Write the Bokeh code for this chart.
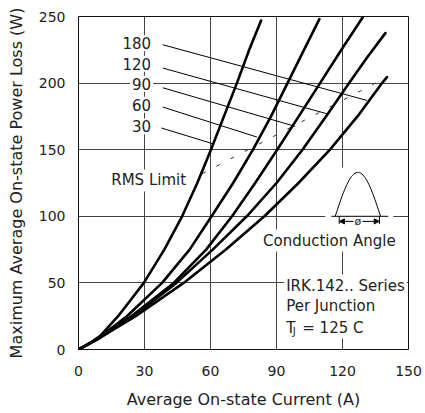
import numpy as np
from bokeh.plotting import figure
from bokeh.models import Range1d, FixedTicker, Arrow, NormalHead
from bokeh.core.properties import value
from bokeh.embed import file_html
from bokeh.resources import INLINE

FONT = "DejaVu Sans"
TXT = "#222222"

# ---------------- data ----------------
x_ticks = [0, 30, 60, 90, 120, 150]
y_ticks = [0, 50, 100, 150, 200, 250]

angle_labels = ["180", "120", "90", "60", "30"]

# curve readings: average current (A) vs power loss (W)
i_30 = [0, 5, 10, 18, 29.7, 39, 47.1, 54, 60.2, 66.1, 72, 77.6, 83]
p_30 = [0, 4.5, 10.5, 25, 50, 75, 100, 125, 150, 175, 200, 225, 247]

i_60 = [0, 5, 10, 22, 38, 50.5, 60.5, 70.3, 79.3, 87.5, 95, 102.5, 109.5]
p_60 = [0, 4.5, 9.8, 25, 50, 75, 100, 125, 150, 175, 200, 225, 248]

i_90 = [0, 10, 24, 43.3, 58, 69.8, 80.3, 90.3, 100.1, 109.8, 119.5, 129.2]
p_90 = [0, 9.2, 25, 50, 75, 100, 125, 150, 175, 200, 225, 249.5]

i_120 = [0, 10, 25, 44.5, 61, 76.5, 90, 101.8, 112.5, 123, 131.5, 139.5]
p_120 = [0, 9, 25, 50, 75, 100, 125, 150, 175, 200, 220, 237.5]

i_180 = [0, 10, 26, 47.8, 67, 84.5, 100, 114.3, 126.8, 138, 140.2]
p_180 = [0, 9, 25, 50, 75, 100, 125, 150, 175, 200, 204.5]

# RMS limit line
rms_i = [56.2, 140.2]
rms_p = [132.0, 204.5]

# curve label positions and leader lines
label_x = [33.9, 33.9, 33.9, 33.9, 33.9]
label_y = [230, 214.5, 199.5, 183.8, 167.5]
lead_x0 = [38.3, 38.3, 38.3, 38.3, 37.7]
lead_y0 = [228.8, 211.3, 196.5, 182.0, 166.3]
lead_x1 = [131.1, 112.9, 98.5, 81.1, 61.0]
lead_y1 = [187.0, 177.0, 167.5, 159.5, 154.5]

# ---------------- figure ----------------
p = figure(width=425, height=413,
           x_range=Range1d(0, 150), y_range=Range1d(0, 250),
           output_backend="svg", toolbar_location=None,
           min_border_left=78, min_border_right=17,
           min_border_top=16, min_border_bottom=64)

p.outline_line_color = "#111111"
p.outline_line_width = 1
p.background_fill_color = "white"
p.border_fill_color = "white"

p.xaxis.ticker = FixedTicker(ticks=x_ticks)
p.yaxis.ticker = FixedTicker(ticks=y_ticks)
p.axis.axis_line_color = None
p.axis.major_tick_line_color = None
p.axis.minor_tick_line_color = None
p.axis.major_label_text_font = FONT
p.axis.major_label_text_font_size = "14px"
p.axis.major_label_text_color = TXT
p.xaxis.major_label_standoff = 10
p.yaxis.major_label_standoff = 7

p.xaxis.axis_label = "Average On-state Current (A)"
p.yaxis.axis_label = "Maximum Average On-state Power Loss (W)"
p.axis.axis_label_text_font = FONT
p.axis.axis_label_text_font_size = "16px"
p.axis.axis_label_text_font_style = "normal"
p.axis.axis_label_text_color = TXT
p.xaxis.axis_label_standoff = 11
p.yaxis.axis_label_standoff = 10

p.grid.grid_line_color = "#444444"
p.grid.grid_line_alpha = 1
p.grid.grid_line_width = 1

# white patch behind the conduction-angle inset (breaks gridlines)
p.quad(left=[112.2], right=[143.1], bottom=[87.5], top=[136.7],
       fill_color="white", line_color=None)

# text items with white background (cover gridlines)
p.text(x=label_x, y=label_y, text=angle_labels,
       text_font=value(FONT), text_font_size=value("15px"),
       text_align="right", text_baseline="middle", text_color=TXT,
       background_fill_color="white", padding=2)

p.text(x=[31.9], y=[126.9], text=["RMS Limit"],
       text_font=value(FONT), text_font_size=value("15px"),
       text_align="center", text_baseline="middle", text_color=TXT,
       background_fill_color="white", padding=2)

p.text(x=[114.0], y=[81.8], text=["Conduction Angle"],
       text_font=value(FONT), text_font_size=value("15px"),
       text_align="center", text_baseline="middle", text_color=TXT,
       background_fill_color="white", padding=2)

p.text(x=[93.5, 93.5], y=[48.0, 32.3], text=["IRK.142.. Series", "Per Junction"],
       text_font=value(FONT), text_font_size=value("15px"),
       text_align="left", text_baseline="middle", text_color=TXT,
       background_fill_color="white", padding=2)

p.text(x=[93.5], y=[16.5], text=["T"],
       text_font=value(FONT), text_font_size=value("15px"),
       text_align="left", text_baseline="middle", text_color=TXT,
       background_fill_color="white", padding=2)
p.text(x=[97.4], y=[13.4], text=["J"],
       text_font=value(FONT), text_font_size=value("10px"),
       text_align="left", text_baseline="middle", text_color=TXT)
p.text(x=[100.8], y=[16.5], text=["= 125  C"],
       text_font=value(FONT), text_font_size=value("15px"),
       text_align="left", text_baseline="middle", text_color=TXT,
       background_fill_color="white", padding=2)

# leader lines
p.segment(x0=lead_x0, y0=lead_y0, x1=lead_x1, y1=lead_y1,
          line_color="black", line_width=1)

# RMS limit dashed line
p.line(rms_i, rms_p, line_color="#333333", line_width=1, line_dash="4 12")

# curves
for xi, yi in [(i_30, p_30), (i_60, p_60), (i_90, p_90), (i_120, p_120), (i_180, p_180)]:
    p.line(xi, yi, line_color="black", line_width=2.6, line_join="round", line_cap="round")

# conduction angle inset
t = np.linspace(0, 1, 40)
wave_x = 116.7 + 20.6 * t
wave_y = 100 + 33.0 * np.sin(np.pi * t)
p.line(wave_x, wave_y, line_color="black", line_width=1)
p.segment(x0=[114.9], y0=[100], x1=[140.8], y1=[100], line_color="black", line_width=1)
p.segment(x0=[118.5, 136.8], y0=[100, 100], x1=[118.5, 136.8], y1=[94.3, 94.3],
          line_color="black", line_width=1)
p.text(x=[127.0], y=[96.2], text=["ø"],
       text_font=value(FONT), text_font_size=value("11px"),
       text_align="center", text_baseline="middle", text_color=TXT)
for xs, xe in [(125.0, 118.6), (129.0, 136.7)]:
    p.add_layout(Arrow(end=NormalHead(size=5, fill_color="black", line_color="black", line_width=1),
                       x_start=xs, y_start=96.2, x_end=xe, y_end=96.2,
                       line_color="black", line_width=1))

open("out.html", "w").write(file_html(p, INLINE))
